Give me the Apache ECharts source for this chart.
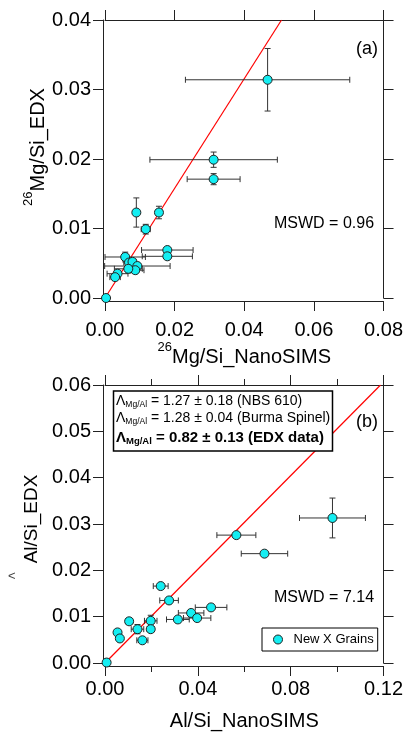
<!DOCTYPE html>
<html><head><meta charset="utf-8">
<script src="https://cdn.jsdelivr.net/npm/echarts@6/dist/echarts.min.js"></script>
<style>html,body{margin:0;padding:0;background:#fff}#c{width:406px;height:732px}</style>
</head><body><div id="c"></div>
<script>
const FONT = '"Liberation Sans", Arial, Helvetica, sans-serif';

// ---------- Panel (a): 26Mg/Si ----------
const mgNano    = [0.0467,0.0312,0.0312,0.0155,0.0090,0.0117,0.0179,0.0179,0.0058,0.0069,0.0079,0.0093,0.0087,0.0067,0.0036,0.0029,0.0003];
const mgEdx     = [0.0314,0.0199,0.0171,0.0123,0.0123,0.0099,0.0069,0.0060,0.0059,0.0051,0.0052,0.0046,0.0040,0.0042,0.0035,0.0030,0.0000];
const mgNanoErr = [0.0236,0.0183,0.0076,0.0010,0.0004,0.0013,0.0074,0.0072,0.0058,0.0015,0.0010,0.0094,0.0025,0.0040,0.0030,0.0015,0.0001];
const mgEdxErr  = [0.0045,0.0011,0.0008,0.0009,0.0021,0.0007,0.0003,0.0003,0.0007,0.0004,0.0004,0.0004,0.0004,0.0006,0.0003,0.0003,0.0001];
const fitAx = [0, 0.0507];
const fitAy = [0, 0.04];
const xRangeA = [0, 0.08], xStepA = 0.02;
const yRangeA = [0, 0.04], yStepA = 0.01;

// ---------- Panel (b): Al/Si ----------
const alNano    = [0.0980,0.0566,0.0687,0.0240,0.0276,0.0457,0.0371,0.0397,0.0314,0.0197,0.0104,0.0140,0.0197,0.0054,0.0064,0.0161,0.0007];
const alEdx     = [0.0313,0.0276,0.0236,0.0166,0.0135,0.0120,0.0108,0.0097,0.0094,0.0091,0.0090,0.0073,0.0073,0.0066,0.0053,0.0049,0.0001];
const alNanoErr = [0.0142,0.0084,0.0100,0.0032,0.0040,0.0068,0.0055,0.0059,0.0049,0.0027,0.0015,0.0027,0.0015,0.0005,0.0005,0.0024,0.0001];
const alEdxErr  = [0.0043,0.0005,0.0004,0.0004,0.0004,0.0004,0.0004,0.0004,0.0004,0.0012,0.0004,0.0010,0.0004,0.0003,0.0003,0.0004,0.0001];
const fitBx = [0, 0.1187];
const fitBy = [0, 0.06];
const xRangeB = [0, 0.12], xStepB = 0.04;
const yRangeB = [0, 0.06], yStepB = 0.01;

const seriesName = 'New X Grains';
const mswdA = 'MSWD = 0.96';
const mswdB = 'MSWD = 7.14';
const annotLines = [
  ['Λ', 'Mg/Al', ' = 1.27 ± 0.18 (NBS 610)'],
  ['Λ', 'Mg/Al', ' = 1.28 ± 0.04 (Burma Spinel)'],
  ['Λ', 'Mg/Al', ' = 0.82 ± 0.13 (EDX data)']
];

const zip = (a, b, c, d) => a.map((v, i) => d ? [v, b[i], c[i], d[i]] : [v, b[i]]);

const AX = '#222';
const MARK = '#14eef2';

function errRender(params, api) {
  const x = api.value(0), y = api.value(1), ex = api.value(2), ey = api.value(3);
  const l = api.coord([x - ex, y]), r = api.coord([x + ex, y]);
  const t = api.coord([x, y + ey]), b = api.coord([x, y - ey]);
  const cap = 3;
  const st = { stroke: '#333', lineWidth: 1 };
  const ch = [];
  const ln = (x1, y1, x2, y2) => ch.push({ type: 'line', shape: { x1, y1, x2, y2 }, style: st });
  if (r[0] - l[0] > 3) {
    ln(l[0], l[1], r[0], r[1]);
    ln(l[0], l[1] - cap, l[0], l[1] + cap);
    ln(r[0], r[1] - cap, r[0], r[1] + cap);
  }
  if (b[1] - t[1] > 3) {
    ln(t[0], t[1], b[0], b[1]);
    ln(t[0] - cap, t[1], t[0] + cap, t[1]);
    ln(b[0] - cap, b[1], b[0] + cap, b[1]);
  }
  return { type: 'group', children: ch };
}

const supRich = {
  sup: { fontSize: 13, fontFamily: FONT, color: '#000', lineHeight: 13, padding: [0, 0, 20, 0] },
  m: { fontSize: 20, fontFamily: FONT, color: '#000', lineHeight: 20 }
};
const lineCommon = { show: true, onZero: false, lineStyle: { color: AX, width: 1 } };

function xAxisMain(grid, range, step, name, nameGap, minor, rich, margin) {
  return {
    type: 'value', gridIndex: grid, position: 'bottom', min: range[0], max: range[1], interval: step,
    offset: 3,
    axisLine: lineCommon,
    axisTick: { show: true, inside: false, length: 10, lineStyle: { color: AX } },
    minorTick: { show: minor, splitNumber: 2, length: 6, lineStyle: { color: AX } },
    splitLine: { show: false }, minorSplitLine: { show: false },
    axisLabel: { fontSize: 20, fontFamily: FONT, color: '#000', margin: margin, formatter: v => v.toFixed(2) },
    name: name, nameLocation: 'middle', nameGap: nameGap,
    nameTextStyle: rich ? { rich: supRich } : { fontSize: 20, fontFamily: FONT, color: '#000' }
  };
}
function xAxisMirror(grid, range, step, minor) {
  return {
    type: 'value', gridIndex: grid, position: 'top', min: range[0], max: range[1], interval: step,
    axisLine: lineCommon,
    axisTick: { show: true, inside: false, length: 10, lineStyle: { color: AX } },
    minorTick: { show: minor, splitNumber: 2, length: 6, lineStyle: { color: AX } },
    splitLine: { show: false }, minorSplitLine: { show: false }, axisLabel: { show: false }
  };
}
function yAxisMain(grid, range, step, name, nameGap, rich, pad) {
  return {
    type: 'value', gridIndex: grid, position: 'left', min: range[0], max: range[1], interval: step,
    offset: 2,
    axisLine: lineCommon,
    axisTick: { show: true, inside: false, length: 10, lineStyle: { color: AX } },
    splitLine: { show: false },
    axisLabel: { fontSize: 20, fontFamily: FONT, color: '#000', margin: 12, formatter: v => v.toFixed(2) },
    name: name, nameLocation: 'middle', nameGap: nameGap, nameMoveOverlap: false,
    nameTextStyle: rich ? { rich: supRich, padding: pad } : { fontSize: 19, fontFamily: FONT, color: '#000', padding: pad }
  };
}
function yAxisMirror(grid, range, step) {
  return {
    type: 'value', gridIndex: grid, position: 'right', min: range[0], max: range[1], interval: step,
    axisLine: lineCommon,
    axisTick: { show: true, inside: false, length: 10, lineStyle: { color: AX } },
    splitLine: { show: false }, axisLabel: { show: false }
  };
}

const scatterStyle = { color: MARK, borderColor: '#222', borderWidth: 1, opacity: 1 };

function annotText(parts, y, bold) {
  const fs = bold ? 15 : 14, ss = bold ? 9.5 : 8.5, fw = bold ? 'bold' : 'normal';
  return { type: 'text', x: 116, y: y, z: 11, style: {
    text: '{L|' + parts[0] + '}{s|' + parts[1] + '}{t|' + parts[2] + '}',
    rich: { L: { fontSize: fs, fontWeight: fw, fontFamily: FONT, fill: '#000' },
            s: { fontSize: ss, fontWeight: fw, fontFamily: FONT, fill: '#000', padding: [7, 0, 0, 0] },
            t: { fontSize: fs, fontWeight: fw, fontFamily: FONT, fill: '#000' } } } };
}

const option = {
  animation: false,
  backgroundColor: '#fff',
  grid: [
    { left: 105, top: 20, width: 280, height: 278 },
    { left: 105, top: 385, width: 280, height: 280 }
  ],
  xAxis: [
    xAxisMain(0, xRangeA, xStepA, '{sup|26}{m|Mg/Si_NanoSIMS}', 45, false, true, 19),
    xAxisMirror(0, xRangeA, xStepA, false),
    xAxisMain(1, xRangeB, xStepB, 'Al/Si_NanoSIMS', 45, true, false, 13),
    xAxisMirror(1, xRangeB, xStepB, true)
  ],
  yAxis: [
    yAxisMain(0, yRangeA, yStepA, '{sup|26}{m|Mg/Si_EDX}', 55, true, [0, 0, 0, 24]),
    yAxisMirror(0, yRangeA, yStepA),
    yAxisMain(1, yRangeB, yStepB, 'Al/Si_EDX', 62, false, [0, 0, 0, 10]),
    yAxisMirror(1, yRangeB, yStepB)
  ],
  legend: {
    show: true, data: [seriesName], left: 262, top: 628,
    orient: 'horizontal', icon: 'circle', itemWidth: 9, itemHeight: 9,
    borderColor: '#000', borderWidth: 1, borderRadius: 0,
    padding: [5, 4, 5, 11],
    textStyle: { fontSize: 13, fontFamily: FONT, color: '#000', padding: [0, 0, 0, 6] },
    itemStyle: { color: MARK, borderColor: '#222', borderWidth: 1 }
  },
  series: [
    { type: 'line', xAxisIndex: 0, yAxisIndex: 0, data: zip(fitAx, fitAy), showSymbol: false, symbol: 'none',
      lineStyle: { color: '#ff0000', width: 1.2 }, z: 2, silent: true },
    { type: 'custom', xAxisIndex: 0, yAxisIndex: 0, renderItem: errRender,
      data: zip(mgNano, mgEdx, mgNanoErr, mgEdxErr), z: 3, silent: true },
    { type: 'scatter', name: 'Panel a grains', xAxisIndex: 0, yAxisIndex: 0, data: zip(mgNano, mgEdx),
      symbol: 'circle', symbolSize: 9, itemStyle: scatterStyle, z: 4 },

    { type: 'line', xAxisIndex: 2, yAxisIndex: 2, data: zip(fitBx, fitBy), showSymbol: false, symbol: 'none',
      lineStyle: { color: '#ff0000', width: 1.2 }, z: 2, silent: true },
    { type: 'custom', xAxisIndex: 2, yAxisIndex: 2, renderItem: errRender,
      data: zip(alNano, alEdx, alNanoErr, alEdxErr), z: 3, silent: true },
    { type: 'scatter', name: seriesName, xAxisIndex: 2, yAxisIndex: 2, data: zip(alNano, alEdx),
      symbol: 'circle', symbolSize: 9, itemStyle: scatterStyle, z: 4 }
  ],
  graphic: [
    { type: 'text', left: 356, top: 40, style: { text: '(a)', fontSize: 18, fontFamily: FONT, fill: '#000' } },
    { type: 'text', left: 356, top: 413, style: { text: '(b)', fontSize: 18, fontFamily: FONT, fill: '#000' } },
    { type: 'text', left: 274, top: 216, style: { text: mswdA, fontSize: 16, fontFamily: FONT, fill: '#000' } },
    { type: 'text', left: 274, top: 590, style: { text: mswdB, fontSize: 16, fontFamily: FONT, fill: '#000' } },
    { type: 'rect', shape: { x: 113.5, y: 391, width: 219, height: 60 },
      style: { fill: '#fff', stroke: '#000', lineWidth: 1.5 }, z: 10 },
    annotText(annotLines[0], 393, false),
    annotText(annotLines[1], 410.5, false),
    annotText(annotLines[2], 429, true),
    { type: 'text', left: 8, top: 570, style: { text: '<', fontSize: 13, fontFamily: FONT, fill: '#444' } }
  ]
};

const chart = echarts.init(document.getElementById('c'), null, { renderer: 'canvas' });
chart.setOption(option);
</script>
</body></html>
